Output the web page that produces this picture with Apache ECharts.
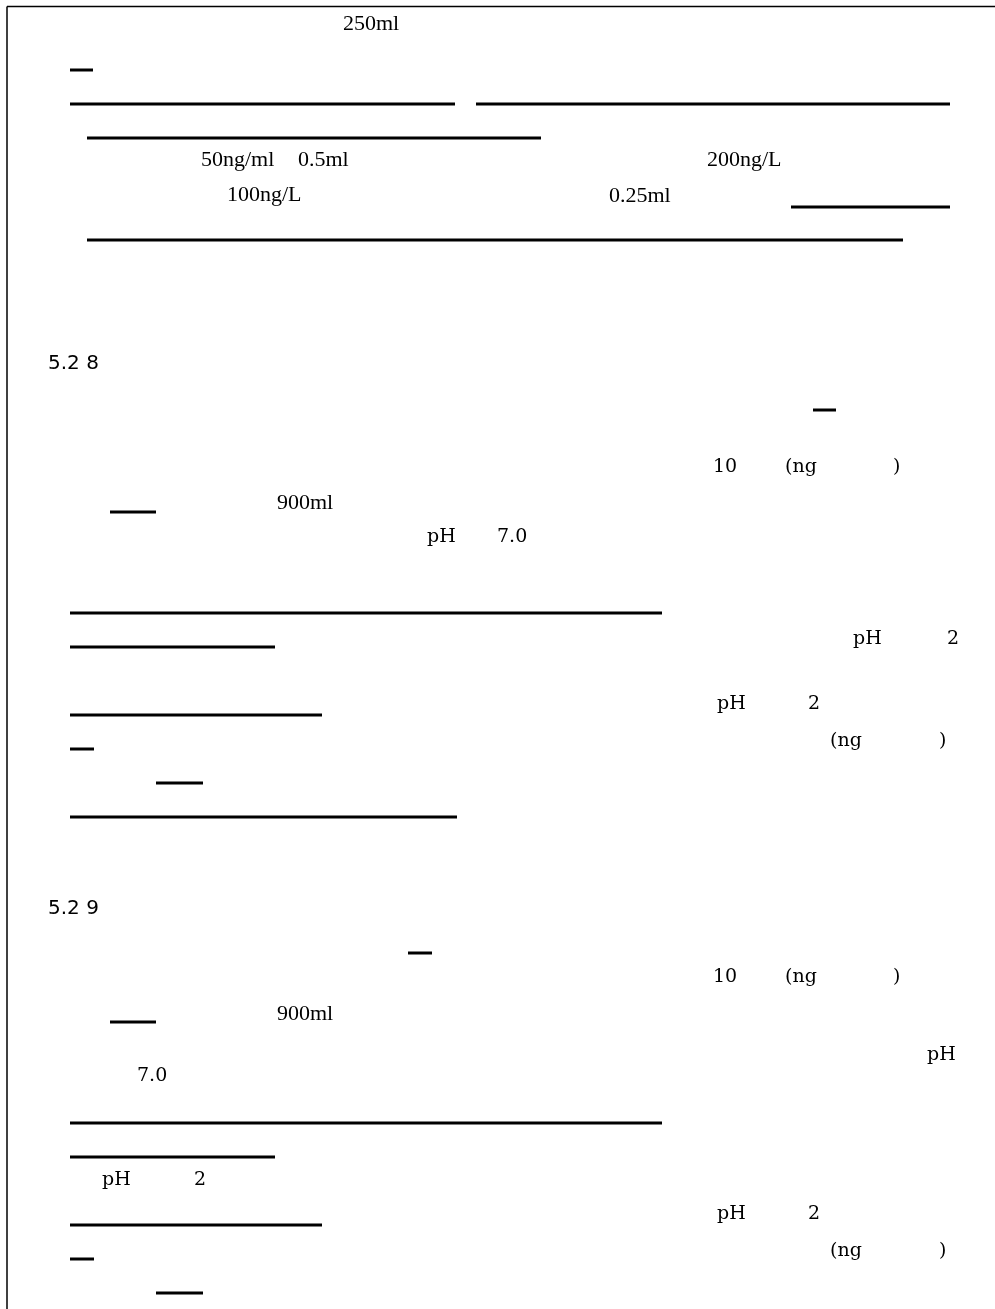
<!DOCTYPE html>
<html>
<head>
<meta charset="utf-8">
<script src="https://cdn.jsdelivr.net/npm/echarts@6/dist/echarts.min.js"></script>
<style>
html,body{margin:0;padding:0;background:#fff;}
#main{width:995px;height:1309px;}
</style>
</head>
<body>
<div id="main"></div>
<script>
// ---- text content ----
var sectionTitles = ['5.2 8', '5.2 9'];
var volumeTexts = ['250ml', '50ng/ml', '0.5ml', '200ng/L', '100ng/L', '0.25ml', '900ml', '900ml'];
var unitTexts = ['10', '(ng', ')', 'pH', '7.0', 'pH', '2', 'pH', '2', '(ng', ')',
                 '10', '(ng', ')', 'pH', '7.0', 'pH', '2', 'pH', '2', '(ng', ')'];

// ---- layout (positions only) ----
var titleLayout = [[48, 364], [48, 909]];
var volumeLayout = [[343, 24], [201, 160], [298, 160], [707, 160], [227, 195], [609, 196], [277, 503], [277, 1014]];
var unitLayout = [[713, 467], [785, 467], [893, 467], [427, 537], [497, 537], [853, 639], [947, 639],
                  [717, 704], [808, 704], [830, 741], [939, 741],
                  [713, 977], [785, 977], [893, 977], [927, 1055], [137, 1076], [102, 1180], [194, 1180],
                  [717, 1214], [808, 1214], [830, 1251], [939, 1251]];
var ruleLayout = [
  [70, 93, 70], [70, 455, 104], [476, 950, 104], [87, 541, 138], [791, 950, 207], [87, 903, 240],
  [813, 836, 410], [110, 156, 512], [70, 662, 613], [70, 275, 647], [70, 322, 715], [70, 94, 749], [156, 203, 783], [70, 457, 817],
  [408, 432, 953], [110, 156, 1022], [70, 662, 1123], [70, 275, 1157], [70, 322, 1225], [70, 94, 1259], [156, 203, 1293]
];

var elements = [];
// page frame
elements.push({type: 'line', shape: {x1: 7, y1: 6.5, x2: 995, y2: 6.5}, style: {stroke: '#000', lineWidth: 1.5}});
elements.push({type: 'line', shape: {x1: 7, y1: 6.5, x2: 7, y2: 1309}, style: {stroke: '#000', lineWidth: 1.5}});

ruleLayout.forEach(function (r) {
  elements.push({type: 'line', shape: {x1: r[0], y1: r[2], x2: r[1], y2: r[2]}, style: {stroke: '#000', lineWidth: 3}});
});

function addText(arr, layout, font) {
  arr.forEach(function (t, i) {
    elements.push({
      type: 'text', x: layout[i][0], y: layout[i][1],
      style: {text: t, font: font, fill: '#000', align: 'left', verticalAlign: 'middle'}
    });
  });
}
addText(sectionTitles, titleLayout, '20px "DejaVu Sans"');
addText(volumeTexts, volumeLayout, '22px "Liberation Serif"');
addText(unitTexts, unitLayout, '19px "DejaVu Serif"');

var chart = echarts.init(document.getElementById('main'));
chart.setOption({
  backgroundColor: '#ffffff',
  animation: false,
  graphic: {elements: elements}
});
</script>
</body>
</html>
